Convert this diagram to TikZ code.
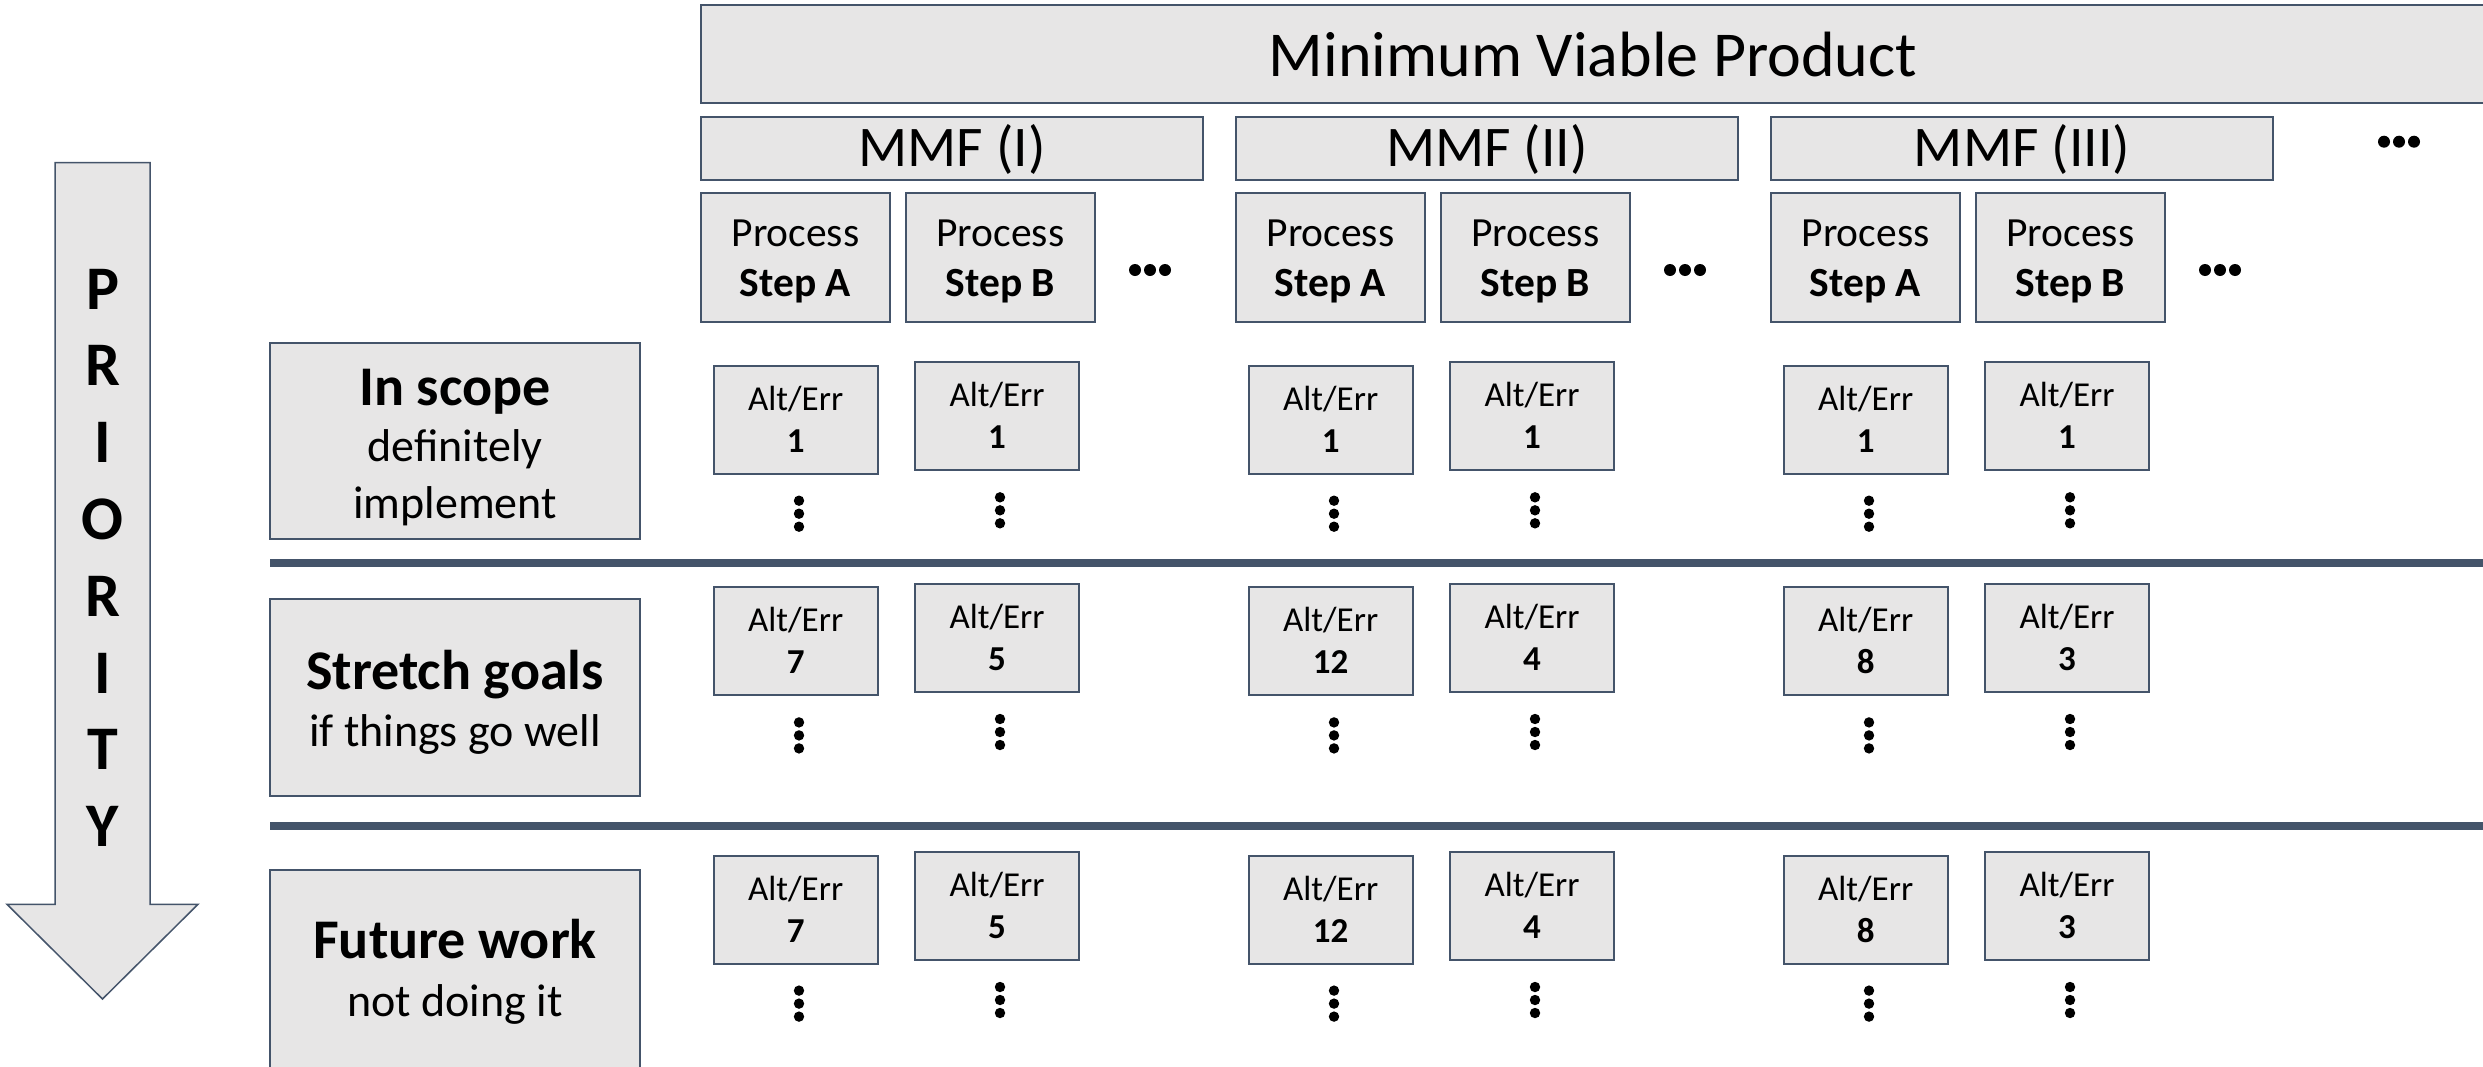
\documentclass[tikz,border=0pt]{standalone}
\usepackage{fontspec}
\setmainfont{Carlito}
\definecolor{slate}{HTML}{44546A}
\definecolor{panel}{HTML}{E7E6E6}
\newcommand\fsz[1]{\fontsize{#1}{#1}\selectfont}

\begin{document}
\begin{tikzpicture}[x=1pt,y=-1pt,
  card/.style={draw=slate, fill=panel, line width=2pt, inner sep=0pt, outer sep=0pt, rectangle},
  tx/.style={anchor=base, inner sep=0pt, outer sep=0pt},
  sep/.style={draw=slate, line width=8pt},
  vdots/.pic={\foreach \k in {-1,0,1} \fill (0,13*\k) circle (5.2);},
  hdots/.pic={\foreach \k in {-1,0,1} \fill (15*\k,0) circle (6);}
]
\useasboundingbox (0,0) rectangle (2483,1066);

% priority arrow
\draw[draw=slate, fill=panel, line width=1.5pt]
  (55,162.5) -- (150,162.5) -- (150,904.3) -- (198,904.3) -- (102.5,999)
  -- (7,904.3) -- (55,904.3) -- cycle;
\foreach \c [count=\k from 0] in {P,R,I,O,R,I,T,Y}
  \node[tx, font=\fsz{62}\bfseries] (prio\k) at (102.5,{309+76.8*\k}) {\c};

% product header
\node[card, minimum width=1784, minimum height=98.3] (mvp) at (1593,54.15) {};
\node[tx, font=\fsz{64}] (mvptext) at (1593,76.7) {Minimum Viable Product};

% features, process steps and alternatives
\foreach \i/\r/\a/\b in {0/I/7/5, 1/II/12/4, 2/III/8/3} {
  \pgfmathsetmacro\dx{535*\i}
  \node[card, minimum width=502, minimum height=63.3] (mmf\i) at ({952+\dx},148.35) {};
  \node[tx, font=\fsz{57.5}] (mmft\i) at ({952+\dx},166.7) {MMF (\r)};

  \node[card, minimum width=189, minimum height=129] (pa\i) at ({795.5+\dx},257.8) {};
  \node[tx, font=\fsz{41.5}] (pat\i) at ({795.5+\dx},246.7) {Process};
  \node[tx, font=\fsz{41.5}\bfseries] (pas\i) at ({795.5+\dx},296.7) {Step A};
  \node[card, minimum width=189, minimum height=129] (pb\i) at ({1000.3+\dx},257.8) {};
  \node[tx, font=\fsz{41.5}] (pbt\i) at ({1000.3+\dx},246.7) {Process};
  \node[tx, font=\fsz{41.5}\bfseries] (pbs\i) at ({1000.3+\dx},296.7) {Step B};
  \pic at ({1150+\dx},270) {hdots};

  \foreach \row/\ta/\tb/\na/\nb in {1/365.7/362.3/1/1, 2/587.4/584/\a/\b, 3/855.6/852/\a/\b} {
    \node[card, minimum width=164, minimum height=108] (alt\i a\row) at ({795.7+\dx},{\ta+54}) {};
    \node[tx, font=\fsz{35}] at ({795.7+\dx},{\ta+44.5}) {Alt/Err};
    \node[tx, font=\fsz{35}\bfseries] at ({795.7+\dx},{\ta+86.5}) {\na};
    \pic at ({799+\dx},{\ta+148}) {vdots};
    \node[card, minimum width=164, minimum height=108] (alt\i b\row) at ({997+\dx},{\tb+54}) {};
    \node[tx, font=\fsz{35}] at ({997+\dx},{\tb+44.5}) {Alt/Err};
    \node[tx, font=\fsz{35}\bfseries] at ({997+\dx},{\tb+86.5}) {\nb};
    \pic at ({1000+\dx},{\tb+148}) {vdots};
  }
}
\pic at (2399,141.7) {hdots};

% priority bands
\node[card, minimum width=370, minimum height=196.1] (scope) at (455,440.95) {};
\node[tx, font=\fsz{56}\bfseries] at (455,405) {In scope};
\node[tx, font=\fsz{46}] at (455,461) {definitely};
\node[tx, font=\fsz{46}] at (455,518) {implement};

\node[card, minimum width=370, minimum height=197.4] (stretch) at (455,697.3) {};
\node[tx, font=\fsz{56}\bfseries] at (455,689.5) {Stretch goals};
\node[tx, font=\fsz{46}] at (455,746.6) {if things go well};

\node[card, minimum width=370, minimum height=220] (future) at (455,980) {};
\node[tx, font=\fsz{56}\bfseries] at (455,958.5) {Future work};
\node[tx, font=\fsz{46}] at (455,1016) {not doing it};

\draw[sep] (scope.west |- 0,563) -- (2490,563);
\draw[sep] (scope.west |- 0,826) -- (2490,826);
\end{tikzpicture}
\end{document}
